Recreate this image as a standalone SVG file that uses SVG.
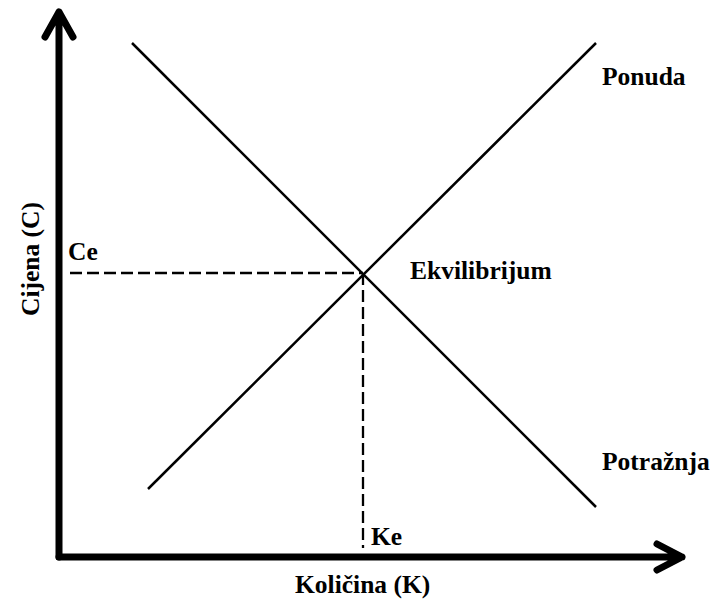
<svg xmlns="http://www.w3.org/2000/svg" width="712" height="602" viewBox="0 0 712 602">
<style>
.lbl{font-family:"Liberation Serif","Times New Roman",serif;font-weight:bold;font-size:25.5px;fill:#000}
.axis{stroke:#000;stroke-width:7;fill:none;stroke-linecap:round;stroke-linejoin:round}
.curve{stroke:#000;stroke-width:2.5;fill:none}
.dash{stroke:#000;stroke-width:2.3;fill:none;stroke-dasharray:12 5}
</style>
<rect width="712" height="602" fill="#fff"/>
<g id="axes">
<path class="axis" d="M59,557 V12 M45,37 L59,12 L73,37"/>
<path class="axis" d="M59,557 H682 M657,544 L682,557 L657,570"/>
</g>
<g id="connectors">
<line class="curve" x1="148" y1="489" x2="596" y2="43"/>
<line class="curve" x1="132" y1="43" x2="596" y2="507"/>
<line class="dash" x1="70" y1="273" x2="363" y2="273"/>
<line class="dash" x1="363" y1="273" x2="363" y2="548"/>
</g>
<g id="ponuda"><text class="lbl" x="602" y="85">Ponuda</text></g>
<g id="potraznja"><text class="lbl" x="602" y="470">Potražnja</text></g>
<g id="ekvilibrijum"><text class="lbl" x="410" y="279">Ekvilibrijum</text></g>
<g id="ce"><text class="lbl" x="68" y="260">Ce</text></g>
<g id="ke"><text class="lbl" x="371" y="545">Ke</text></g>
<g id="kolicina"><text class="lbl" x="295" y="593">Količina (K)</text></g>
<g id="cijena"><text class="lbl" transform="translate(39,316) rotate(-90)">Cijena (C)</text></g>
</svg>
